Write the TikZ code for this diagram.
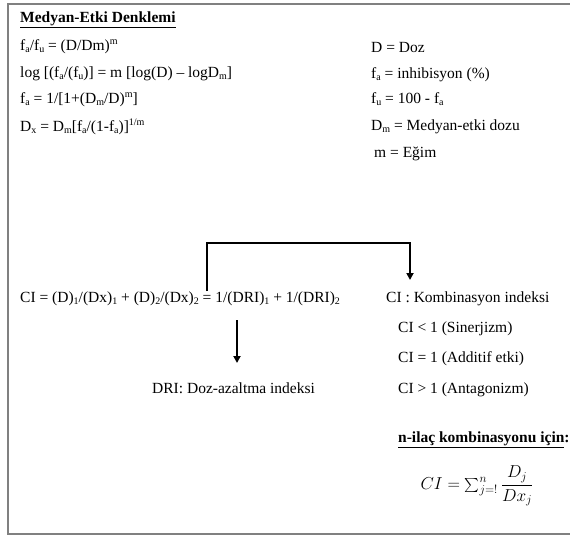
\documentclass[tikz,border=0pt]{standalone}
\usepackage{fontspec}
\setmainfont{Liberation Serif}
\usetikzlibrary{positioning,arrows.meta}
\newcommand{\dn}[1]{\raisebox{-0.35ex}{\fontsize{10}{10}\selectfont #1}}
\newcommand{\up}[1]{\raisebox{0.75ex}{\fontsize{10}{10}\selectfont #1}}
\newcommand{\bigsum}{\mathop{\vcenter{\hbox{\scalebox{1.4}{$\textstyle\sum$}}}}\nolimits}

\begin{document}
\begin{tikzpicture}[x=1pt, y=-1pt,
	txt/.style={anchor=base west, inner sep=0pt, font=\fontsize{15.5}{18}\selectfont},
	frame/.style={draw=black!50, line width=2pt},
	link/.style={line width=2.4pt, -{Triangle[width=7pt,length=7pt]}}]
	\useasboundingbox (0,0) rectangle (570,536);
	\draw[frame] (571,4) -- (8,4) -- (8,534) -- (571,534);
	
	\node[txt] (title) at (20,22) {\textbf{\underline{Medyan-Etki Denklemi}}};
	\node[below=28pt of title.base west, txt] (eq1) {f\dn{a}/f\dn{u} = (D/Dm)\up{m}};
	\node[below=27pt of eq1.base west, txt] (eq2) {log [(f\dn{a}/(f\dn{u})] = m [log(D) -- logD\dn{m}]};
	\node[below=26pt of eq2.base west, txt] (eq3) {f\dn{a} = 1/[1+(D\dn{m}/D)\up{m}]};
	\node[below=28pt of eq3.base west, txt] (eq4) {D\dn{x} = D\dn{m}[f\dn{a}/(1-f\dn{a})]\up{1/m}};
	
	\node[txt] (doz) at (371,52) {D = Doz};
	\node[below=26pt of doz.base west, txt] (fa) {f\dn{a} = inhibisyon (\%)};
	\node[below=25pt of fa.base west, txt] (fu) {f\dn{u} = 100 - f\dn{a}};
	\node[below=27pt of fu.base west, txt] (dm) {D\dn{m} = Medyan-etki dozu};
	\node[below=27pt of dm.base west, txt, xshift=3pt] (egim) {m = Eğim};
	
	\node[txt] (ci) at (20,302) {CI = (D)\dn{1}/(Dx)\dn{1} + (D)\dn{2}/(Dx)\dn{2} = 1/(DRI)\dn{1} + 1/(DRI)\dn{2}};
	\node[txt] (kombi) at (386,302) {CI : Kombinasyon indeksi};
	\node[below=30pt of kombi.base west, txt, xshift=12pt] (sin) {CI < 1 (Sinerjizm)};
	\node[below=30pt of sin.base west, txt] (add) {CI = 1 (Additif etki)};
	\node[below=31pt of add.base west, txt] (ant) {CI > 1 (Antagonizm)};
	\node[txt] (dri) at (152,393) {DRI: Doz-azaltma indeksi};
	
	\node[txt] (nilac) at (398,442) {\textbf{\underline{n-ilaç kombinasyonu için}:}};
	\node[font=\fontsize{17}{22}\selectfont, inner sep=0pt] (sum) at (477,486) {$CI = \bigsum_{j=!}^{n}{\displaystyle\frac{D_j}{Dx_j}}$};
	
	\coordinate (brk) at (207,291);
	\coordinate (kombiTop) at (410,280);
	\coordinate (driTop) at (237,320);
	\coordinate (driEnd) at (237,363);
	\draw[link] (brk) -- (brk |- 0,243) -| (kombiTop);
	\draw[link] (driTop) -- (driEnd);
\end{tikzpicture}
\end{document}
